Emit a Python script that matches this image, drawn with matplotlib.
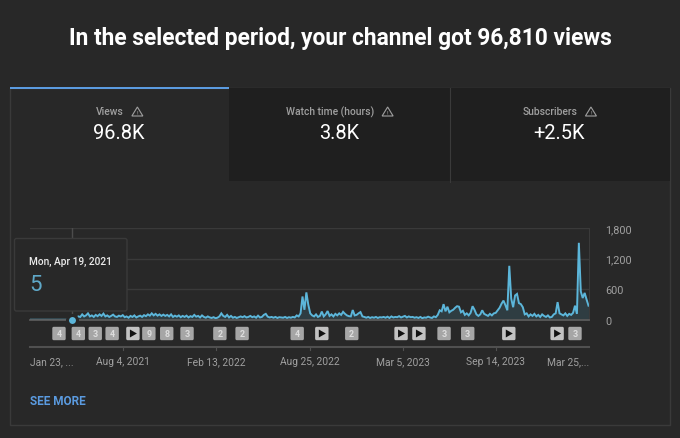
#!/usr/bin/env python3
# -*- coding: utf-8 -*-
import matplotlib
matplotlib.use('Agg')
import matplotlib.pyplot as plt
from matplotlib.patches import FancyBboxPatch, Polygon, Rectangle
import pandas as pd

plt.rcParams['font.family'] = ['Roboto', 'DejaVu Sans']

# daily views, one value every 4 days
views = [
    5, 5, 5, 5, 5, 5, 5, 5, 5, 5,
    5, 5, 5, 5, 5, 5, 5, 5, 5, 5,
    5, 5, 5, 5, 30, 70, 60, 110, 70, 90,
    130, 70, 90, 60, 100, 75, 110, 80, 125, 70,
    90, 60, 80, 105, 70, 60, 85, 70, 95, 55,
    70, 45, 80, 60, 90, 50, 70, 85, 60, 95,
    75, 110, 85, 130, 90, 120, 85, 110, 80, 105,
    80, 100, 70, 110, 60, 85, 65, 90, 55, 80,
    60, 85, 50, 75, 60, 100, 65, 80, 50, 90,
    60, 45, 70, 50, 40, 55, 35, 45, 70, 130,
    80, 60, 100, 50, 80, 45, 60, 40, 55, 70,
    55, 75, 50, 60, 80, 55, 70, 45, 85, 50,
    60, 100, 120, 65, 50, 60, 45, 60, 40, 55,
    50, 45, 60, 40, 55, 45, 60, 50, 90, 70,
    130, 460, 200, 540, 300, 130, 90, 70, 110, 60,
    80, 165, 70, 110, 175, 80, 110, 70, 120, 90,
    130, 100, 160, 120, 90, 75, 70, 195, 90, 100,
    130, 155, 70, 60, 45, 60, 40, 55, 45, 60,
    40, 55, 50, 60, 45, 65, 40, 70, 50, 60,
    55, 75, 50, 65, 80, 50, 70, 55, 60, 45,
    55, 40, 60, 35, 50, 45, 65, 50, 40, 70,
    55, 100, 190, 170, 310, 170, 260, 150, 180, 200,
    240, 270, 260, 150, 180, 100, 130, 90, 140, 270,
    200, 110, 80, 110, 190, 120, 100, 80, 120, 90,
    130, 140, 190, 240, 320, 380, 290, 190, 1060, 420,
    250, 480, 510, 330, 310, 250, 110, 130, 70, 110,
    80, 120, 70, 100, 60, 110, 80, 60, 90, 50,
    60, 110, 130, 350, 130, 110, 90, 130, 80, 120,
    100, 140, 280, 120, 1510, 560, 430, 530, 400, 280,
]
dates = pd.date_range('2021-01-23', periods=len(views), freq='4D')

selected_date = pd.Timestamp('2021-04-19')
selected_value = 5

tick_dates = pd.to_datetime(['2021-08-04', '2022-02-13', '2022-08-25',
                             '2023-03-05', '2023-09-14'])
first_date = pd.Timestamp('2021-01-23')
last_date = pd.Timestamp('2024-03-25')
x_labels = ['Jan 23, ...', 'Aug 4, 2021', 'Feb 13, 2022', 'Aug 25, 2022',
            'Mar 5, 2023', 'Sep 14, 2023', 'Mar 25,...']
y_ticks = [0, 600, 1200, 1800]
y_labels = ['0', '600', '1,200', '1,800']

badge_dates = pd.to_datetime([
    '2021-03-24', '2021-05-03', '2021-06-07', '2021-07-12', '2021-08-24',
    '2021-09-26', '2021-11-02', '2021-12-14', '2022-02-20', '2022-04-07',
    '2022-07-30', '2022-09-19', '2022-11-20', '2023-03-02', '2023-04-08',
    '2023-05-30', '2023-07-18', '2023-10-11', '2024-01-19', '2024-02-25'])
badge_labels = ['4', '4', '3', '4', 'play', '9', '8', '3', '2', '2',
                '4', 'play', '2', 'play', 'play', '3', '3', 'play', 'play', '3']

tab_names = ['Views', 'Watch time (hours)', 'Subscribers']
tab_values = ['96.8K', '3.8K', '+2.5K']
tab_centers = [119, 339, 559]

BG = '#282828'
DARK = '#1f1f1f'
LINE = '#3a3a3a'
BLUE = '#5b9be0'
CYAN = '#5cb6da'
GREY = '#a0a0a0'

fig = plt.figure(figsize=(6.8, 4.39), dpi=100, facecolor=BG)

# pixel layer under the chart
bg = fig.add_axes([0, 0, 1, 1], zorder=0)
bg.set_xlim(0, 680)
bg.set_ylim(439, 0)
bg.axis('off')

bg.add_patch(Rectangle((9.5, 88.5), 660.5, 337.5, fc=BG, ec=LINE, lw=1))
bg.add_patch(Rectangle((229, 89), 441, 93, fc=DARK, ec='none'))
bg.plot([449.5, 449.5], [89, 183], color=LINE, lw=0.8)
bg.add_patch(Rectangle((10, 88), 219, 2.4, fc=BLUE, ec='none'))

bg.text(340, 39, 'In the selected period, your channel got 96,810 views',
        color='white', fontsize=16.35, fontweight='bold', ha='center', va='center')

for name, value, cx in zip(tab_names, tab_values, tab_centers):
    t = bg.text(cx - 9, 112, name, color=GREY, fontsize=7.4, fontweight='medium',
                ha='center', va='center')
    bg.text(cx, 134, value, color='white', fontsize=14.4, ha='center', va='center')
    fig.canvas.draw()
    right = t.get_window_extent().x1
    bg.add_patch(Polygon([(right + 8, 117), (right + 19, 117), (right + 13.5, 108)],
                         closed=True, fc='none', ec=GREY, lw=0.8))
    bg.text(right + 13.5, 113.5, '!', color=GREY, fontsize=4.5, ha='center', va='center')

bg.text(30, 402, 'SEE MORE', color=BLUE, fontsize=8.5, fontweight='bold',
        ha='left', va='center')

# chart
ax = fig.add_axes([30 / 680, (439 - 321) / 439, 559 / 680, 92 / 439], zorder=1)
ax.patch.set_alpha(0)
ax.plot(dates, views, color=CYAN, lw=1.4, solid_joinstyle='miter')
ax.fill_between(dates, views, color=CYAN, alpha=0.15, lw=0)
ax.axvline(selected_date, color='#4c4c4c', lw=1)
ax.plot([selected_date], [selected_value], 'o', ms=7.2, color=CYAN, mec=BG, mew=2.2,
        clip_on=False, zorder=5)

ax.set_xlim(first_date, last_date)
ax.set_ylim(0, 1800)
ax.set_yticks(y_ticks)
ax.set_yticklabels(y_labels)
ax.yaxis.tick_right()
ax.set_xticks([first_date] + list(tick_dates) + [last_date])
ax.set_xticklabels(x_labels)
labels = ax.get_xticklabels()
labels[0].set_ha('left')
labels[-1].set_ha('right')
ax.tick_params(axis='x', length=0, pad=26, labelsize=7.4, labelcolor=GREY)
ax.tick_params(axis='y', length=0, pad=11.5, labelsize=7.8, labelcolor=GREY)
ax.grid(axis='y', color=LINE, lw=1)
ax.set_axisbelow(True)
for side in ['top', 'left']:
    ax.spines[side].set_visible(False)
ax.spines['right'].set_color(LINE)
ax.spines['bottom'].set_color('#5a5a5a')
ax.spines['bottom'].set_linewidth(1.3)

# pixel layer above the chart
top = fig.add_axes([0, 0, 1, 1], zorder=2)
top.set_xlim(0, 680)
top.set_ylim(439, 0)
top.axis('off')
top.patch.set_alpha(0)


def date_x(d):
    return ax.transData.transform((matplotlib.dates.date2num(d), 0))[0]


# time axis bar under the badges
top.plot([30, 589], [348, 348], color='#505050', lw=1.5)
for d in tick_dates:
    top.plot([date_x(d)] * 2, [348, 351], color='#505050', lw=0.8)

for d, label in zip(badge_dates, badge_labels):
    x = date_x(d)
    fc = '#c2c2c2' if label == 'play' else '#a6a6a6'
    top.add_patch(FancyBboxPatch((x - 5.5, 329), 11, 11,
                                 boxstyle='round,pad=1.2,rounding_size=1.5',
                                 fc=fc, ec='none'))
    if label == 'play':
        top.add_patch(Polygon([(x - 3, 330.5), (x - 3, 338.5), (x + 4, 334.5)],
                              closed=True, fc='#111111', ec='none'))
    else:
        top.text(x, 334.5, label, color='#dedede', fontsize=6.4, fontweight='bold',
                 ha='center', va='center')

# tooltip
top.add_patch(FancyBboxPatch((14.5, 239.5), 112.5, 72.5, boxstyle='round,pad=0,rounding_size=2',
                             fc=BG, ec=LINE, lw=1))
top.text(29, 262, 'Mon, Apr 19, 2021', color='#ececec', fontsize=7.3,
         fontweight='medium', ha='left', va='center')
top.text(29, 286, '5', color='#5fa8c8', fontsize=16, ha='left', va='center')

fig.savefig('out.png', dpi=100, facecolor=BG)
